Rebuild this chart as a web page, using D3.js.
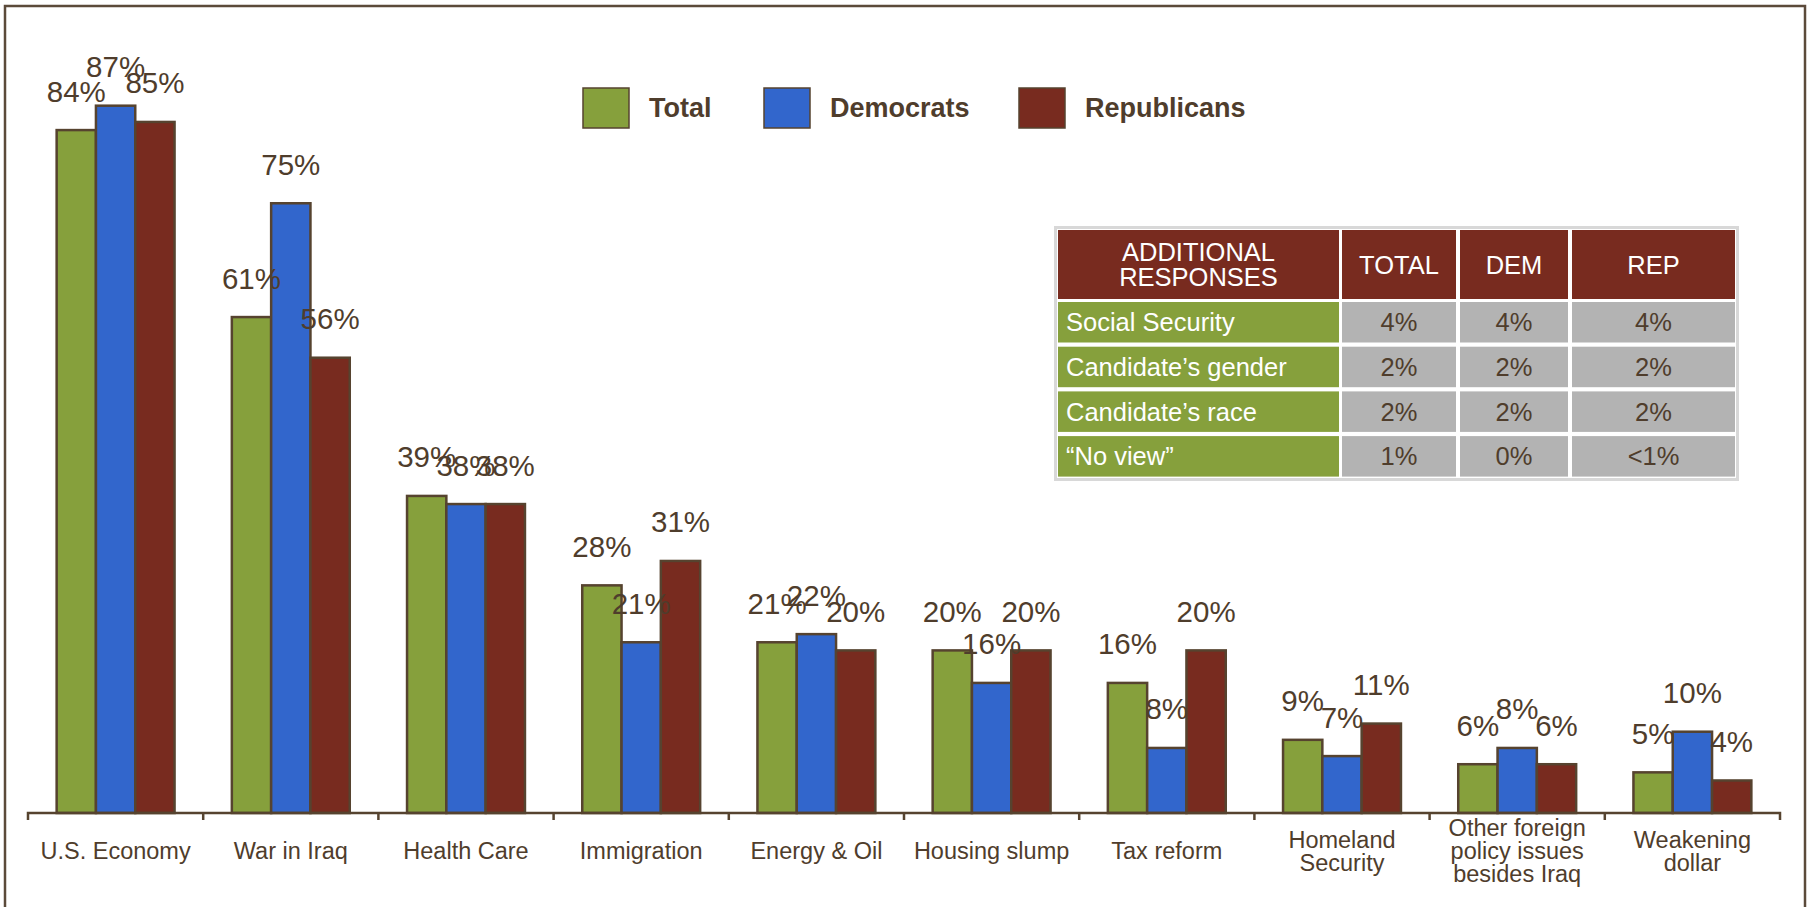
<!DOCTYPE html>
<html>
<head>
<meta charset="utf-8">
<script src="https://cdn.jsdelivr.net/npm/d3@7"></script>
<style>
  html, body { margin: 0; padding: 0; background: #ffffff; }
  svg { display: block; }
  text { font-family: "Liberation Sans", Arial, Helvetica, sans-serif; }
</style>
</head>
<body>
<svg id="chart" width="1811" height="907"></svg>
<script>
// Issues considered important, by party
const categories = [
  "U.S. Economy", "War in Iraq", "Health Care", "Immigration", "Energy & Oil",
  "Housing slump", "Tax reform", "Homeland\nSecurity",
  "Other foreign\npolicy issues\nbesides Iraq", "Weakening\ndollar"
];
const seriesNames = ["Total", "Democrats", "Republicans"];
const totalValues      = [84, 61, 39, 28, 21, 20, 16, 9, 6, 5];
const democratValues   = [87, 75, 38, 21, 22, 16, 8, 7, 8, 10];
const republicanValues = [85, 56, 38, 31, 20, 20, 20, 11, 6, 4];

// Side table of smaller responses
const tableHeader = ["ADDITIONAL\nRESPONSES", "TOTAL", "DEM", "REP"];
const extraResponses = ["Social Security", "Candidate’s gender", "Candidate’s race", "“No view”"];
const extraTotal = ["4%", "2%", "2%", "1%"];
const extraDem   = ["4%", "2%", "2%", "0%"];
const extraRep   = ["4%", "2%", "2%", "<1%"];

const seriesColors = ["#86a03c", "#3266cc", "#782b1f"];
const ink = "#4f3d2c";
const edge = "#56432f";

const svg = d3.select("#chart");

// outer frame (bottom edge runs off the page)
svg.append("rect")
  .attr("x", 5).attr("y", 6).attr("width", 1800).attr("height", 920)
  .attr("fill", "none").attr("stroke", "#5b4a3a").attr("stroke-width", 2.5);

const seriesValues = [totalValues, democratValues, republicanValues];
const rows = categories.map((c, i) => ({
  cat: c,
  vals: seriesNames.map((s, k) => ({ key: s, value: seriesValues[k][i] }))
}));

const baseY = 813;
const x = d3.scaleBand().domain(categories).range([28, 1780]).padding(0);
const bw = x.bandwidth();
const groupW = bw * 0.673;
const x1 = d3.scaleBand().domain(seriesNames)
  .range([(bw - groupW) / 2, (bw + groupW) / 2]).padding(0);
const y = d3.scaleLinear().domain([0, 100]).range([baseY, 0]);
const color = d3.scaleOrdinal().domain(seriesNames).range(seriesColors);

// bars
const groups = svg.append("g").selectAll("g").data(rows).join("g")
  .attr("transform", d => `translate(${x(d.cat)},0)`);

groups.selectAll("rect").data(d => d.vals).join("rect")
  .attr("x", d => x1(d.key))
  .attr("y", d => y(d.value))
  .attr("width", x1.bandwidth())
  .attr("height", d => baseY - y(d.value))
  .attr("fill", d => color(d.key))
  .attr("stroke", edge).attr("stroke-width", 2.5);

// value labels
groups.selectAll("text.val").data(d => d.vals).join("text")
  .attr("class", "val")
  .attr("x", d => x1(d.key) + x1.bandwidth() / 2)
  .attr("y", d => y(d.value) - 28.5)
  .attr("text-anchor", "middle")
  .attr("font-size", 29.5)
  .attr("fill", ink)
  .text(d => d.value + "%");

// category axis: baseline, boundary ticks and wrapped labels
const axis = svg.append("g");
axis.append("path")
  .attr("d", `M${x.range()[0]},${baseY + 7}V${baseY}H${x.range()[1]}V${baseY + 7}`)
  .attr("fill", "none").attr("stroke", edge).attr("stroke-width", 2.5);
axis.selectAll("line.tick").data(categories.slice(1)).join("line")
  .attr("class", "tick")
  .attr("x1", d => x(d)).attr("x2", d => x(d))
  .attr("y1", baseY).attr("y2", baseY + 7)
  .attr("stroke", edge).attr("stroke-width", 2.5);

const lineGap = 23;
axis.selectAll("text.cat").data(categories).join("text")
  .attr("class", "cat")
  .attr("text-anchor", "middle")
  .attr("font-size", 23.5)
  .attr("fill", ink)
  .each(function (d) {
    const lines = d.split("\n");
    const cx = x(d) + bw / 2;
    d3.select(this).selectAll("tspan").data(lines).join("tspan")
      .attr("x", cx)
      .attr("y", (l, i) => 859 + (i - (lines.length - 1) / 2) * lineGap)
      .text(l => l);
  });

// legend
const legend = svg.append("g");
const legendX = [583, 764, 1019];
seriesNames.forEach((name, k) => {
  legend.append("rect")
    .attr("x", legendX[k]).attr("y", 88).attr("width", 46).attr("height", 40)
    .attr("fill", seriesColors[k]).attr("stroke", edge).attr("stroke-width", 1.5);
  legend.append("text")
    .attr("x", legendX[k] + 66).attr("y", 117)
    .attr("font-size", 27).attr("font-weight", "bold")
    .attr("fill", ink).text(name);
});

// additional responses table
const tbl = svg.append("g");
const colX = [1058, 1342, 1460, 1572];
const colW = [281, 114, 108, 163];
const headY = 230, headH = 69;
const rowY0 = 302, rowPitch = 44.7, rowH = 40.5;
const cellFont = 25.5;

tbl.append("rect")
  .attr("x", 1055.5).attr("y", 227.5).attr("width", 682).attr("height", 252)
  .attr("fill", "#ffffff").attr("stroke", "#d8d8d8").attr("stroke-width", 3);

tableHeader.forEach((h, c) => {
  tbl.append("rect")
    .attr("x", colX[c]).attr("y", headY).attr("width", colW[c]).attr("height", headH)
    .attr("fill", "#782b1f");
  const lines = h.split("\n");
  const t = tbl.append("text")
    .attr("text-anchor", "middle").attr("font-size", cellFont).attr("fill", "#ffffff");
  t.selectAll("tspan").data(lines).join("tspan")
    .attr("x", colX[c] + colW[c] / 2)
    .attr("y", (l, i) => headY + headH / 2 + 9 + (i - (lines.length - 1) / 2) * 25.5)
    .text(l => l);
});

const valueCols = [extraTotal, extraDem, extraRep];
extraResponses.forEach((label, r) => {
  const ry = rowY0 + r * rowPitch;
  tbl.append("rect")
    .attr("x", colX[0]).attr("y", ry).attr("width", colW[0]).attr("height", rowH)
    .attr("fill", "#86a03c");
  tbl.append("text")
    .attr("x", colX[0] + 8).attr("y", ry + rowH / 2 + 9)
    .attr("font-size", cellFont).attr("fill", "#ffffff").text(label);
  valueCols.forEach((col, c) => {
    tbl.append("rect")
      .attr("x", colX[c + 1]).attr("y", ry).attr("width", colW[c + 1]).attr("height", rowH)
      .attr("fill", "#b3b3b3");
    tbl.append("text")
      .attr("x", colX[c + 1] + colW[c + 1] / 2).attr("y", ry + rowH / 2 + 9)
      .attr("text-anchor", "middle")
      .attr("font-size", cellFont).attr("fill", ink).text(col[r]);
  });
});
</script>
</body>
</html>
